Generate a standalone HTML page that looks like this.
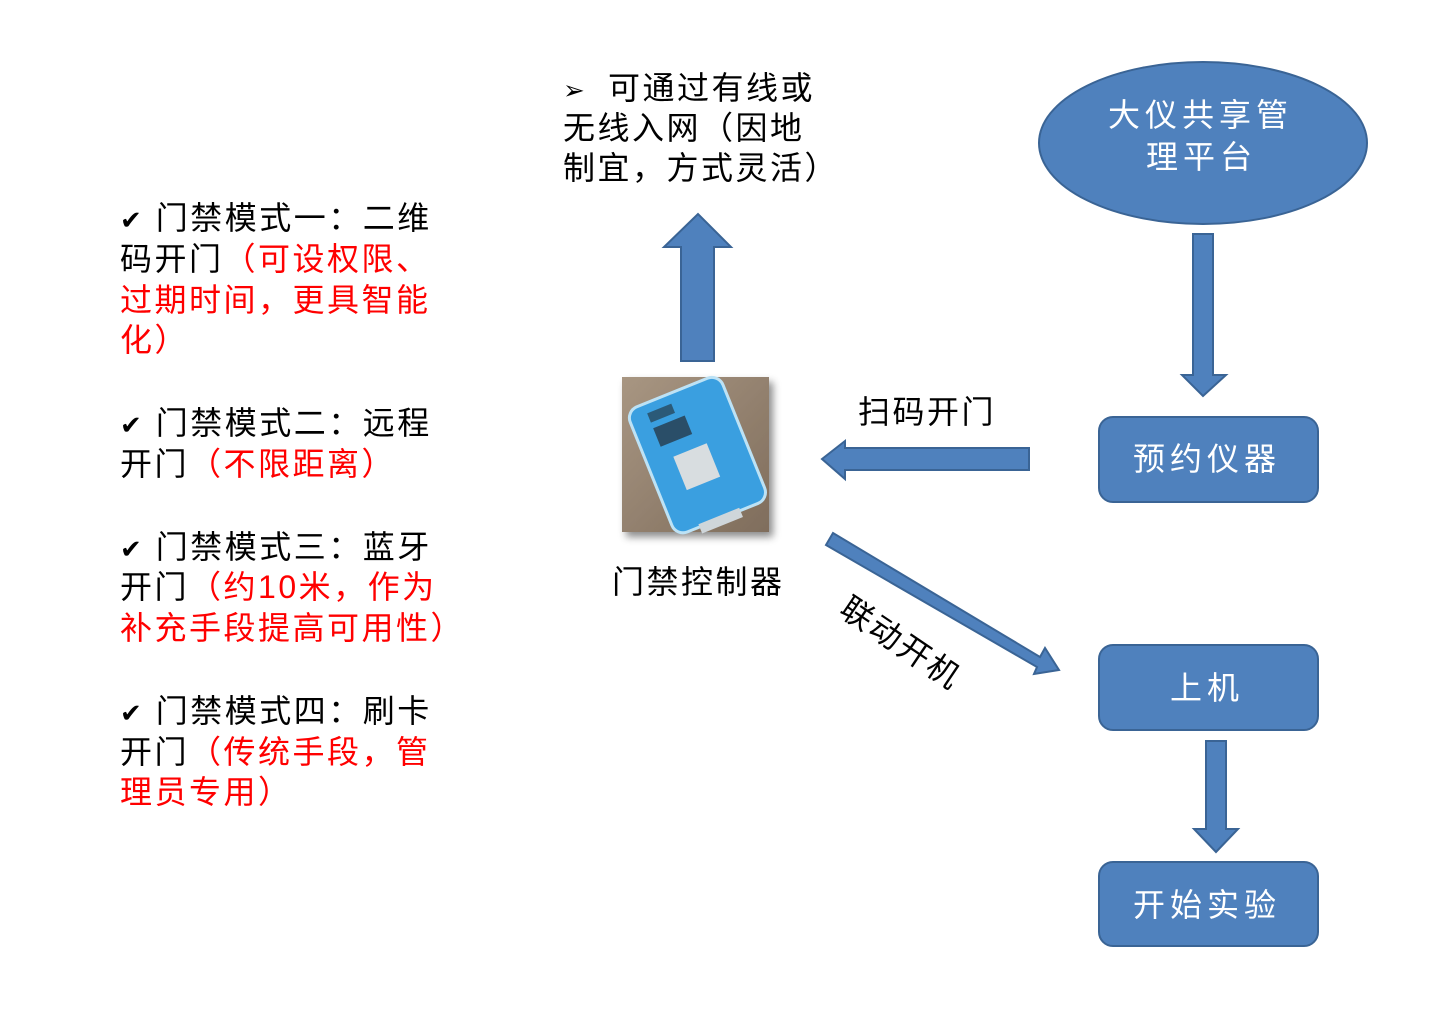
<!DOCTYPE html>
<html><head><meta charset="utf-8"><style>
body{margin:0;width:1450px;height:1010px;background:#fff;position:relative;overflow:hidden;font-family:"Liberation Sans","Noto Sans CJK SC",sans-serif}
.t{position:absolute;font-size:32px;line-height:40px;white-space:nowrap;color:#000;letter-spacing:2.5px}
.r{color:#f00}
.w{color:#fff;letter-spacing:5px}
</style></head><body>
<svg width="1450" height="1010" style="position:absolute;left:0;top:0">
<defs><linearGradient id="bg" x1="0" y1="0" x2="1" y2="1"><stop offset="0" stop-color="#a89682"/><stop offset="1" stop-color="#7f6d5c"/></linearGradient>
<filter id="sh"><feDropShadow dx="4" dy="5" stdDeviation="4" flood-opacity="0.45"/></filter></defs>
<g fill="#4f81bd" stroke="#3a6495" stroke-width="2">
<ellipse cx="1203" cy="143" rx="164" ry="81"/>
<polygon points="1193,234 1213,234 1213,375 1226,375 1203,396 1182,375 1193,375"/>
<rect x="1099" y="417" width="219" height="85" rx="14"/>
<rect x="1099" y="645" width="219" height="85" rx="14"/>
<polygon points="1206,741 1226,741 1226,829 1238,829 1216,852 1194,829 1206,829"/>
<rect x="1099" y="862" width="219" height="84" rx="14"/>
<polygon points="1029,448 1029,470 845,470 845,479 822,459 845,441 845,448"/>
<polygon points="681,361 714,361 714,247 731,247 698,214 664,247 681,247"/>
<polygon points="826,545 833,533 1040,657 1045,648 1059,670 1034,674 1037,667"/>
</g>
<g filter="url(#sh)"><rect x="622" y="377" width="147" height="155" fill="url(#bg)"/></g>
<g transform="rotate(-22 690 450)">
<rect x="645" y="390" width="100" height="135" rx="12" fill="#3a9fe0" stroke="#bde2f5" stroke-width="3"/>
<rect x="664" y="400" width="26" height="10" fill="#2b5a78"/>
<rect x="664" y="416" width="34" height="20" fill="#2a4e68"/>
<rect x="672" y="450" width="36" height="36" fill="#d8dde0"/>
<rect x="670" y="522" width="44" height="10" fill="#cfd6da"/>
</g>
</svg>
<div class="t" style="left:563px;top:68px"><span style="font-size:26px">➢</span></div>
<div class="t" style="left:608px;top:68px">可通过有线或</div>
<div class="t" style="left:563px;top:108px">无线入网（因地</div>
<div class="t" style="left:563px;top:148px">制宜，方式灵活）</div>

<div class="t" style="left:120px;top:198px"><span style="font-size:26px">✔</span> 门禁模式一：二维</div>
<div class="t" style="left:120px;top:239px">码开门<span class="r">（可设权限、</span></div>
<div class="t r" style="left:120px;top:280px">过期时间，更具智能</div>
<div class="t r" style="left:120px;top:320px">化）</div>

<div class="t" style="left:120px;top:403px"><span style="font-size:26px">✔</span> 门禁模式二：远程</div>
<div class="t" style="left:120px;top:444px">开门<span class="r">（不限距离）</span></div>

<div class="t" style="left:120px;top:527px"><span style="font-size:26px">✔</span> 门禁模式三：蓝牙</div>
<div class="t" style="left:120px;top:567px">开门<span class="r">（约10米，作为</span></div>
<div class="t r" style="left:120px;top:608px">补充手段提高可用性）</div>

<div class="t" style="left:120px;top:691px"><span style="font-size:26px">✔</span> 门禁模式四：刷卡</div>
<div class="t" style="left:120px;top:732px">开门<span class="r">（传统手段，管</span></div>
<div class="t r" style="left:120px;top:772px">理员专用）</div>

<div class="t" style="left:612px;top:562px">门禁控制器</div>
<div class="t" style="left:858px;top:392px">扫码开门</div>
<div class="t" style="left:855px;top:588px;transform:rotate(34deg);transform-origin:0 0">联动开机</div>

<div class="t w" style="left:1108px;top:95px">大仪共享管</div>
<div class="t w" style="left:1146px;top:137px">理平台</div>
<div class="t w" style="left:1133px;top:439px">预约仪器</div>
<div class="t w" style="left:1170px;top:668px">上机</div>
<div class="t w" style="left:1133px;top:885px">开始实验</div>
</body></html>
